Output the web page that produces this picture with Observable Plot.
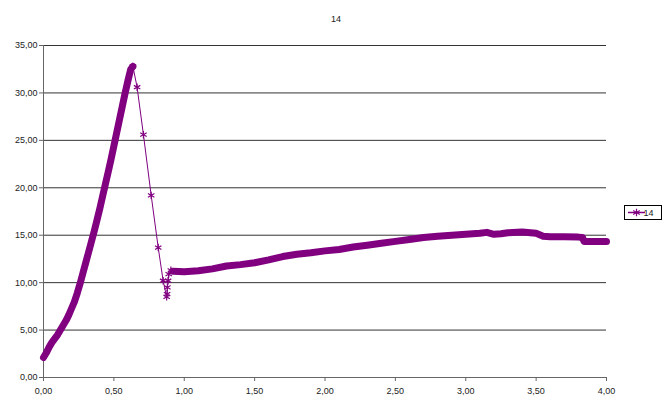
<!DOCTYPE html>
<html>
<head>
<meta charset="utf-8">
<script src="https://cdn.jsdelivr.net/npm/d3@7"></script>
<script src="https://cdn.jsdelivr.net/npm/@observablehq/plot@0.6"></script>
<style>
  html, body { margin: 0; padding: 0; background: #fff; }
  #chart { position: relative; width: 668px; height: 396px; }
  svg { font-family: "Liberation Sans", Arial, sans-serif; }
</style>
</head>
<body>
<div id="chart"></div>
<script>
// ---- data ----
const chartTitle = "14";
const seriesName = "14";

const riseX = [0.00, 0.02, 0.04, 0.06, 0.08, 0.10, 0.12, 0.14, 0.16, 0.18, 0.20, 0.22, 0.24, 0.26, 0.28, 0.30, 0.32, 0.34, 0.36, 0.38, 0.40, 0.42, 0.44, 0.46, 0.48, 0.50, 0.52, 0.54, 0.56, 0.58, 0.60, 0.62, 0.635];
const riseY = [2.1, 2.6, 3.2, 3.7, 4.1, 4.5, 5.0, 5.5, 6.0, 6.6, 7.3, 8.0, 8.9, 9.9, 11.0, 12.1, 13.2, 14.3, 15.4, 16.6, 17.8, 19.1, 20.4, 21.7, 23.0, 24.4, 25.8, 27.2, 28.6, 30.0, 31.3, 32.5, 32.8];

const dropX = [0.635, 0.665, 0.71, 0.765, 0.815, 0.85, 0.875, 0.878, 0.88, 0.885, 0.89, 0.905];
const dropY = [32.8, 30.6, 25.6, 19.2, 13.7, 10.2, 8.5, 8.8, 9.5, 10.2, 10.9, 11.3];

const plateauX = [0.92, 1.00, 1.10, 1.20, 1.30, 1.40, 1.50, 1.60, 1.70, 1.80, 1.90, 2.00, 2.10, 2.20, 2.30, 2.40, 2.50, 2.60, 2.70, 2.80, 2.90, 3.00, 3.10, 3.15, 3.20, 3.25, 3.30, 3.40, 3.50, 3.55, 3.60, 3.70, 3.80, 3.83, 3.84, 3.90, 4.00];
const plateauY = [11.2, 11.15, 11.25, 11.45, 11.75, 11.9, 12.1, 12.4, 12.75, 13.0, 13.15, 13.35, 13.5, 13.75, 13.95, 14.15, 14.35, 14.55, 14.75, 14.9, 15.0, 15.1, 15.2, 15.3, 15.1, 15.15, 15.25, 15.35, 15.2, 14.9, 14.85, 14.85, 14.8, 14.75, 14.35, 14.35, 14.35];

const xTicks = [0, 0.5, 1, 1.5, 2, 2.5, 3, 3.5, 4];
const yTicks = [0, 5, 10, 15, 20, 25, 30, 35];

// ---- build tables ----
const zip = (xs, ys) => xs.map((x, i) => ({x, y: ys[i]}));
const rise = zip(riseX, riseY);
const drop = zip(dropX, dropY);
const plateau = zip(plateauX, plateauY);
const all = rise.concat(drop, plateau);

const fmt = d => d.toFixed(2).replace(".", ",");
const purple = "#800080";

const plot = Plot.plot({
  width: 668,
  height: 396,
  marginLeft: 43,
  marginRight: 62,
  marginTop: 45,
  marginBottom: 19,
  style: {fontFamily: "'Liberation Sans', Arial, sans-serif", fontSize: "9px", color: "#222", background: "#fff"},
  x: {domain: [0, 4]},
  y: {domain: [0, 35]},
  marks: [
    Plot.gridY(yTicks, {stroke: "#333", strokeOpacity: 1}),
    Plot.ruleX([0], {stroke: "#666"}),
    Plot.ruleY([0], {stroke: "#666"}),
    Plot.axisY({ticks: yTicks, tickFormat: fmt, tickSize: 4, tickPadding: 2, label: null, stroke: "#666", fill: "#222", fontSize: 9}),
    Plot.axisX({ticks: xTicks, tickFormat: fmt, tickSize: 4, tickPadding: 6, label: null, stroke: "#666", fill: "#222", fontSize: 9}),
    Plot.line(all, {x: "x", y: "y", stroke: purple, strokeWidth: 1}),
    Plot.line(rise, {x: "x", y: "y", stroke: purple, strokeWidth: 7, strokeLinecap: "round", strokeLinejoin: "round"}),
    Plot.line(plateau, {x: "x", y: "y", stroke: purple, strokeWidth: 7, strokeLinecap: "round", strokeLinejoin: "round"}),
    Plot.dot(drop, {x: "x", y: "y", symbol: "asterisk", r: 3.5, stroke: purple, strokeWidth: 1.2}),
    Plot.text([chartTitle], {frameAnchor: "top", dy: -30, dx: 11, fontSize: 9, fill: "#222"})
  ]
});

document.getElementById("chart").appendChild(plot);

// legend
const svg = d3.select(plot);
const lg = svg.append("g").attr("transform", "translate(624,205)");
lg.append("rect").attr("x", 0.5).attr("y", 0.5).attr("width", 37).attr("height", 14)
  .attr("fill", "#fff").attr("stroke", "#000");
lg.append("line").attr("x1", 4).attr("x2", 21).attr("y1", 7.5).attr("y2", 7.5)
  .attr("stroke", purple).attr("stroke-width", 1.5);
lg.append("path").attr("transform", "translate(12.5,7.5)")
  .attr("d", d3.symbol(d3.symbolAsterisk, 40)())
  .attr("fill", "none").attr("stroke", purple).attr("stroke-width", 1.2);
lg.append("text").attr("x", 24.5).attr("y", 11).attr("font-size", 9).attr("fill", "#222")
  .attr("font-family", "'Liberation Sans', Arial, sans-serif").text(seriesName);
</script>
</body>
</html>
